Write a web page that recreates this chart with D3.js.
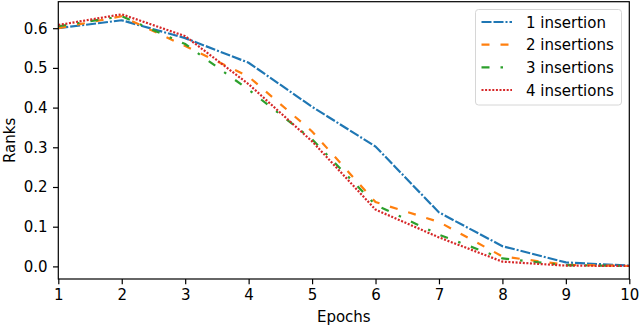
<!DOCTYPE html>
<html>
<head>
<meta charset="utf-8">
<script src="https://cdn.jsdelivr.net/npm/d3@7"></script>
<style>
  body { margin: 0; background: #fff; }
  text { font-family: "DejaVu Sans", sans-serif; }
</style>
</head>
<body>
<svg id="chart" width="640" height="328"></svg>
<script>
var epochs = [1, 2, 3, 4, 5, 6, 7, 8, 9, 10];
var seriesNames = ["1 insertion", "2 insertions", "3 insertions", "4 insertions"];
var one_ins   = [0.600, 0.620, 0.575, 0.513, 0.402, 0.302, 0.136, 0.051, 0.010, 0.002];
var two_ins   = [0.600, 0.630, 0.555, 0.478, 0.340, 0.162, 0.112, 0.025, 0.004, 0.001];
var three_ins = [0.605, 0.630, 0.560, 0.445, 0.320, 0.155, 0.080, 0.020, 0.003, 0.001];
var four_ins  = [0.608, 0.635, 0.580, 0.459, 0.315, 0.143, 0.073, 0.012, 0.002, 0.001];
var xTicks = [1, 2, 3, 4, 5, 6, 7, 8, 9, 10];
var yTicks = [0.0, 0.1, 0.2, 0.3, 0.4, 0.5, 0.6];

var colors = ["#1f77b4", "#ff7f0e", "#2ca02c", "#d62728"];
var dashes = ["10,2,10,2,2,2", "8,11", "8,11,2.5,11", "2,1.6"];

var W = 640, H = 328;
var margin = {left: 58.3, right: 10.7, top: 1.7, bottom: 49};
var fontPx = 15, tickLen = 5.3;

var svg = d3.select("#chart");

var x = d3.scaleLinear().domain([1, 10]).range([margin.left, W - margin.right]);
// matplotlib style 5% padding on y
var allVals = one_ins.concat(two_ins, three_ins, four_ins);
var ymin = d3.min(allVals.concat([0])), ymax = d3.max(allVals);
var pad = (ymax - ymin) * 0.05;
var y = d3.scaleLinear().domain([ymin - pad, ymax + pad]).range([H - margin.bottom, margin.top]);

var series = [one_ins, two_ins, three_ins, four_ins];

var line = d3.line()
  .x(function(d, i){ return x(epochs[i]); })
  .y(function(d){ return y(d); });

svg.append("clipPath").attr("id", "plotclip")
  .append("rect")
  .attr("x", margin.left).attr("y", margin.top)
  .attr("width", W - margin.left - margin.right)
  .attr("height", H - margin.top - margin.bottom);

svg.append("g").attr("clip-path", "url(#plotclip)")
  .selectAll("path")
  .data(series).enter()
  .append("path")
  .attr("d", line)
  .attr("fill", "none")
  .attr("stroke", function(d, i){ return colors[i]; })
  .attr("stroke-width", 2.2)
  .attr("stroke-dasharray", function(d, i){ return dashes[i]; });

//// axes
var xAxis = d3.axisBottom(x).tickValues(xTicks).tickFormat(d3.format("d"))
  .tickSizeInner(tickLen).tickSizeOuter(0).tickPadding(5.5);
var yAxis = d3.axisLeft(y).tickValues(yTicks).tickFormat(d3.format(".1f"))
  .tickSizeInner(tickLen).tickSizeOuter(0).tickPadding(5.5);

var gx = svg.append("g").attr("transform", "translate(0," + (H - margin.bottom) + ")").call(xAxis);
var gy = svg.append("g").attr("transform", "translate(" + margin.left + ",0)").call(yAxis);

[gx, gy].forEach(function(g){
  g.select(".domain").remove();
  g.selectAll(".tick line").attr("stroke", "#000").attr("stroke-width", 1.2);
  g.selectAll(".tick text").attr("fill", "#000").style("font-size", fontPx + "px")
    .style("font-family", "DejaVu Sans");
});

// frame
svg.append("rect")
  .attr("x", margin.left).attr("y", margin.top)
  .attr("width", W - margin.left - margin.right)
  .attr("height", H - margin.top - margin.bottom)
  .attr("fill", "none").attr("stroke", "#000").attr("stroke-width", 1.2);

svg.append("text")
  .attr("x", (margin.left + W - margin.right) / 2)
  .attr("y", 322)
  .attr("text-anchor", "middle")
  .style("font-size", fontPx + "px")
  .text("Epochs");

svg.append("text")
  .attr("transform", "translate(15," + ((margin.top + H - margin.bottom) / 2) + ") rotate(-90)")
  .attr("text-anchor", "middle")
  .style("font-size", fontPx + "px")
  .text("Ranks");

//// legend
var legend = svg.append("g");
legend.append("rect")
  .attr("x", 475.5).attr("y", 9.5)
  .attr("width", 146).attr("height", 95.5)
  .attr("rx", 3).attr("ry", 3)
  .attr("fill", "#fff").attr("fill-opacity", 0.8)
  .attr("stroke", "#d6d6d6").attr("stroke-width", 1);

var rowY = [22, 44.6, 67.3, 90];
var items = legend.selectAll("g.item")
  .data(seriesNames).enter()
  .append("g")
  .attr("class", "item")
  .attr("transform", function(d, i){ return "translate(0," + rowY[i] + ")"; });

items.append("line")
  .attr("x1", 481.5).attr("x2", 512)
  .attr("y1", 0).attr("y2", 0)
  .attr("stroke", function(d, i){ return colors[i]; })
  .attr("stroke-width", 2.2)
  .attr("stroke-dasharray", function(d, i){ return dashes[i]; });

items.append("text")
  .attr("x", 526).attr("y", 5.5)
  .style("font-size", fontPx + "px")
  .text(function(d){ return d; });
</script>
</body>
</html>
